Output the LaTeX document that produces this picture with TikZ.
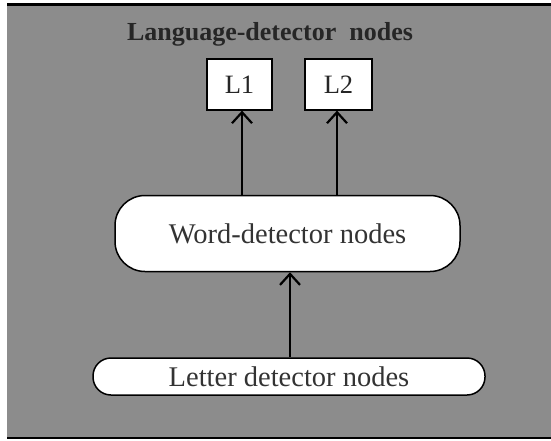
\documentclass[tikz,border=0pt]{standalone}
\usepackage{fontspec}
\setmainfont{Liberation Serif}
\usetikzlibrary{arrows.meta}
\begin{document}
\begin{tikzpicture}[x=1pt,y=-1pt,
  lbox/.style={draw=black,line width=1.2pt,fill=white,minimum width=65pt,minimum height=51pt,inner sep=0pt,font=\fontsize{26.5}{30}\selectfont,text=black!85},
  pill/.style={draw=black,line width=1.5pt,fill=white,inner sep=0pt,text=black!80,font=\fontsize{28.5}{32}\selectfont},
  conn/.style={line width=1.6pt,-{Straight Barb[length=11pt,width=20pt,line width=2.2pt]}}]
\useasboundingbox (0,0) rectangle (551,441);
\fill[white] (0,0) rectangle (551,441);
\fill[black!45] (7,5) rectangle (551,439);
\draw[line width=3pt,black] (7,5) -- (551,5);
\draw[line width=2pt,black] (7,438) -- (551,438);
\node[font=\bfseries\fontsize{26}{30}\selectfont,text=black!85] (title) at (270,34) {Language-detector\ \ nodes};
\node[lbox] (L1) at (239.5,84.5) {L1};
\node[lbox,minimum width=67pt] (L2) at (338.5,84.5) {L2};
\node[pill,rounded corners=30pt,minimum width=345pt,minimum height=76pt] (word) at (287.5,233.5) {Word-detector nodes};
\node[pill,rounded corners=18pt,minimum width=392pt,minimum height=37pt] (letter) at (289,376.5) {Letter detector nodes};
\draw[conn] (word.north -| 242,0) -- (L1.south -| 242,0);
\draw[conn] (word.north -| 337,0) -- (L2.south -| 337,0);
\draw[conn] (letter.north -| 290,0) -- (word.south -| 290,0);
\end{tikzpicture}
\end{document}
